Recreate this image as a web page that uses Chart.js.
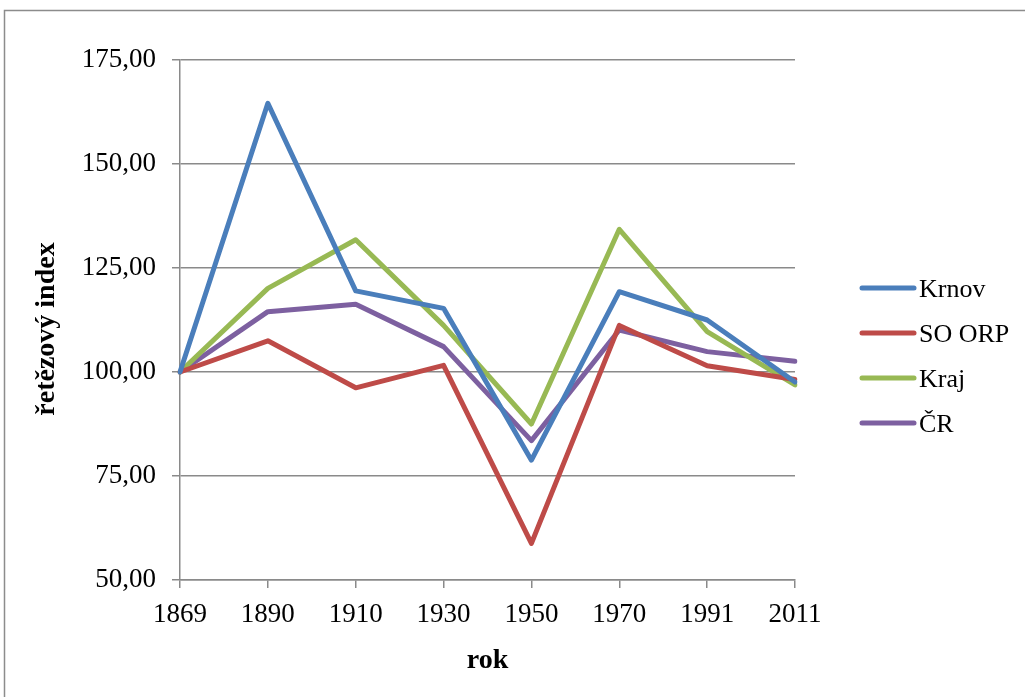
<!DOCTYPE html>
<html>
<head>
<meta charset="utf-8">
<script src="https://cdn.jsdelivr.net/npm/chart.js@4.4.1/dist/chart.umd.min.js"></script>
<style>
html,body{margin:0;padding:0;background:#fff;overflow:hidden;}
canvas{display:block;}
</style>
</head>
<body>
<canvas id="c" width="1025" height="697"></canvas>
<script>
const categories = ['1869','1890','1910','1930','1950','1970','1991','2011'];
const krnov = [100, 164.6, 119.5, 115.3, 78.8, 119.3, 112.5, 97.6];
const soOrp = [100, 107.5, 96.2, 101.6, 58.8, 111.2, 101.5, 98.2];
const kraj  = [100, 120.1, 131.8, 111.2, 87.5, 134.3, 109.7, 96.9];
const cr    = [100, 114.5, 116.3, 106.1, 83.5, 110.1, 104.9, 102.6];
const seriesNames = ['Krnov','SO ORP','Kraj','ČR'];
const seriesColors = ['#4A7EBB','#BE4B48','#98B954','#7D60A0'];
const yTitle = 'řetězový index';
const xTitle = 'rok';

const GRID = '#8a8a8a';
const FONT = 'Liberation Serif';

const decor = {
  id: 'decor',
  beforeDraw(chart){
    const ctx = chart.ctx;
    ctx.save();
    ctx.fillStyle = '#fff';
    ctx.fillRect(0,0,chart.width,chart.height);
    ctx.strokeStyle = '#8c8c8c';
    ctx.lineWidth = 1.5;
    ctx.strokeRect(4.5, 10.5, 1100, 800);
    ctx.restore();
  },
  afterDraw(chart){
    const ctx = chart.ctx;
    const a = chart.chartArea;
    ctx.save();
    ctx.fillStyle = '#000';
    ctx.font = 'bold 28px "' + FONT + '"';
    ctx.textAlign = 'center';
    ctx.textBaseline = 'middle';
    ctx.fillText(xTitle, (a.left + a.right)/2, 661);
    ctx.translate(47, (a.top + a.bottom)/2 + 9);
    ctx.rotate(-Math.PI/2);
    ctx.fillText(yTitle, 0, 0);
    ctx.restore();

    // legend
    ctx.save();
    ctx.font = '26px "' + FONT + '"';
    ctx.textAlign = 'left';
    ctx.textBaseline = 'middle';
    chart.data.datasets.forEach((ds, i) => {
      const y = 288 + i*45;
      ctx.strokeStyle = ds.borderColor;
      ctx.lineWidth = 5;
      ctx.lineCap = 'round';
      ctx.beginPath();
      ctx.moveTo(862, y);
      ctx.lineTo(914, y);
      ctx.stroke();
      ctx.fillStyle = '#000';
      ctx.fillText(ds.label, 919, y + 2);
    });
    ctx.restore();
  }
};

const allSeries = [krnov, soOrp, kraj, cr];

new Chart(document.getElementById('c'), {
  type: 'line',
  data: {
    labels: categories,
    datasets: allSeries.map((d, i) => ({
      label: seriesNames[i],
      data: d,
      borderColor: seriesColors[i],
      backgroundColor: seriesColors[i],
      borderWidth: 5,
      pointRadius: 0,
      pointHoverRadius: 0,
      tension: 0,
      borderJoinStyle: 'round',
      borderCapStyle: 'round',
      fill: false
    }))
  },
  options: {
    responsive: false,
    animation: false,
    devicePixelRatio: 1,
    layout: { padding: { left: 0, top: 60, right: 230, bottom: 0 } },
    plugins: { legend: { display: false }, tooltip: { enabled: false } },
    events: [],
    scales: {
      x: {
        type: 'category',
        offset: false,
        afterFit(scale){ scale.height = 117; },
        grid: { display: true, drawOnChartArea: false, drawTicks: true, tickLength: 8, color: GRID, lineWidth: 1.5 },
        border: { display: true, color: GRID, width: 1.5 },
        ticks: { color: '#000', font: { family: FONT, size: 27 }, padding: 11, maxRotation: 0, autoSkip: false }
      },
      y: {
        min: 50,
        max: 175,
        afterFit(scale){ scale.width = 180; },
        grid: { display: true, drawTicks: true, tickLength: 8, color: GRID, lineWidth: 1.5 },
        border: { display: true, color: GRID, width: 1.5 },
        ticks: {
          stepSize: 25,
          color: '#000',
          font: { family: FONT, size: 27 },
          padding: 16,
          callback: v => v.toFixed(2).replace('.', ',')
        }
      }
    }
  },
  plugins: [decor]
});
</script>
</body>
</html>
